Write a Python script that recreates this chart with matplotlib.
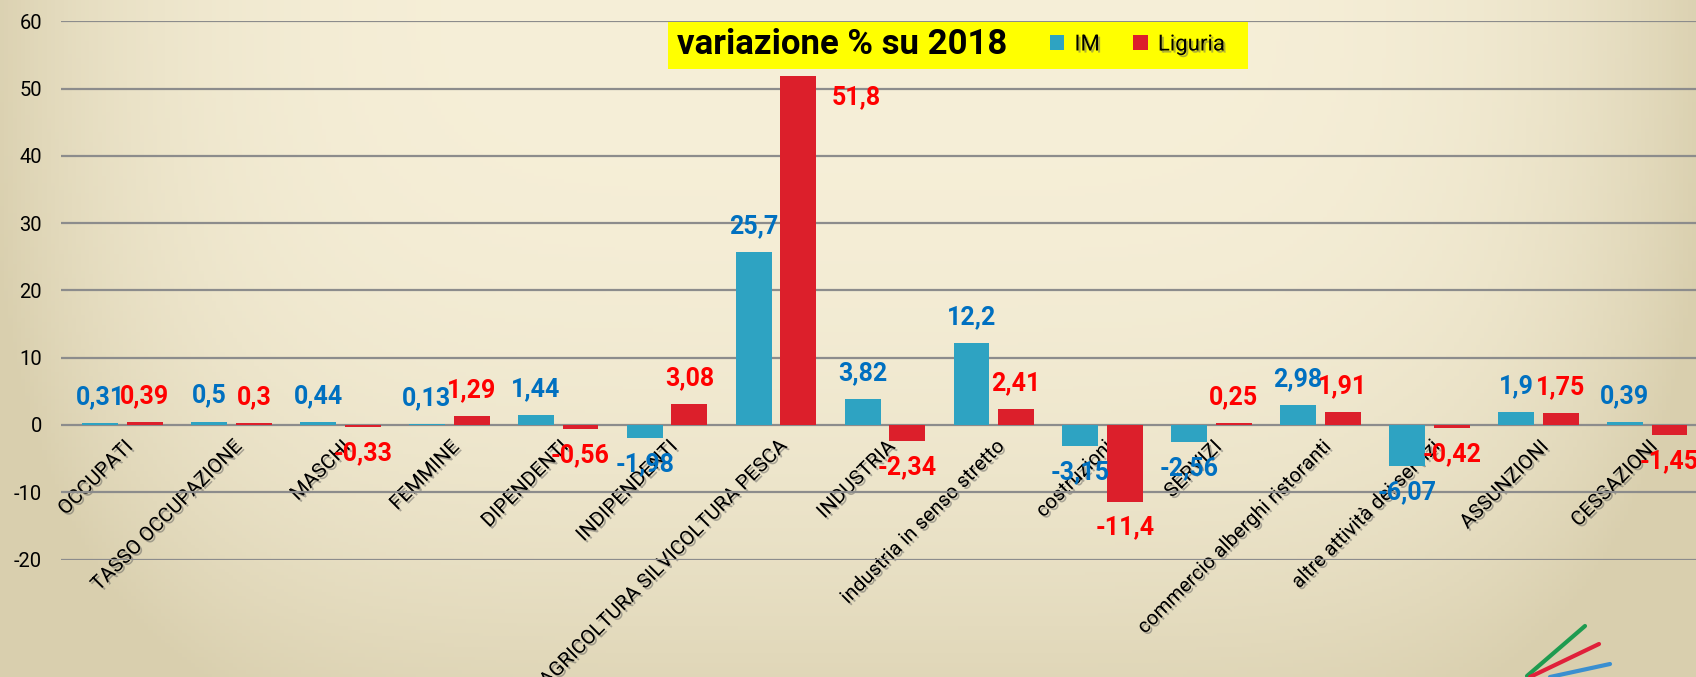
"""Variazione % su 2018: IM vs Liguria, grouped bar chart."""

import numpy as np
import matplotlib.pyplot as plt
import matplotlib.patheffects as pe
from matplotlib.patches import Rectangle
from matplotlib.lines import Line2D

plt.rcParams['font.family'] = ['Roboto', 'DejaVu Sans']
plt.rcParams['axes.unicode_minus'] = False

# ---- data -------------------------------------------------------------
categories = [
    'OCCUPATI', 'TASSO OCCUPAZIONE', 'MASCHI', 'FEMMINE', 'DIPENDENTI',
    'INDIPENDENTI', 'AGRICOLTURA SILVICOLTURA PESCA', 'INDUSTRIA',
    'industria in senso stretto', 'costruzioni', 'SERVIZI',
    'commercio alberghi ristoranti', 'altre attività dei servizi',
    'ASSUNZIONI', 'CESSAZIONI',
]
im_values = [0.31, 0.5, 0.44, 0.13, 1.44, -1.98, 25.7, 3.82, 12.2, -3.15,
             -2.56, 2.98, -6.07, 1.9, 0.39]
liguria_values = [0.39, 0.3, -0.33, 1.29, -0.56, 3.08, 51.8, -2.34, 2.41,
                  -11.4, 0.25, 1.91, -0.42, 1.75, -1.45]
series_names = ['IM', 'Liguria']
y_ticks = [-20, -10, 0, 10, 20, 30, 40, 50, 60]
title = 'variazione % su 2018'

# ---- layout / style ---------------------------------------------------
W, H = 1696, 677
BLUE, RED = '#2ea3c2', '#dc1f2b'
BLUE_TXT, RED_TXT = '#0070c0', '#ff0000'
GRID = '#8c8c8c'
BAR_W, OFFSET = 0.33, 0.205
# labels moved by hand in the original (series index, category index) -> points
label_shift = {(1, 6): (42, -15)}


def px(x, y):
    """Pixel position (from top-left) to figure fraction."""
    return x / W, 1 - y / H


fig = plt.figure(figsize=(W / 100, H / 100), dpi=100)

# background gradient
bg = fig.add_axes([0, 0, 1, 1], zorder=-10)
gx, gy = np.meshgrid(np.linspace(0, 1, 400), np.linspace(0, 1, 200))
t = np.clip(0.9 * np.abs(2 * gx - 1) ** 5 + 0.75 * gy ** 2.5, 0, 1)[..., None]
centre = np.array([246, 239, 216]) / 255
edge = np.array([217, 207, 174]) / 255
bg.imshow(centre * (1 - t) + edge * t, aspect='auto', extent=[0, 1, 0, 1])
bg.set_axis_off()

# main axes
cat_step, cat0 = 108.9, 122.6
left_px, right_px = 61, 1701
top_px, bottom_px = 21.2, 559.6
ax = fig.add_axes([left_px / W, 1 - bottom_px / H,
                   (right_px - left_px) / W, (bottom_px - top_px) / H])
ax.patch.set_alpha(0)

x = np.arange(len(categories))
bars_im = ax.bar(x - OFFSET, im_values, BAR_W, color=BLUE, zorder=2)
bars_lig = ax.bar(x + OFFSET, liguria_values, BAR_W, color=RED, zorder=2)

ax.set_xlim(-(cat0 - left_px) / cat_step, (right_px - cat0) / cat_step)
ax.set_ylim(-20, 60)
ax.set_yticks(y_ticks)
ax.yaxis.grid(True, color=GRID, linewidth=1.6)
ax.set_axisbelow(True)
for s in ax.spines.values():
    s.set_visible(False)
ax.spines['bottom'].set_position(('data', 0))
ax.tick_params(axis='y', length=0, labelsize=14.5, pad=13.5)

ax.set_xticks(x, categories, rotation=45, ha='right', rotation_mode='anchor')
ax.tick_params(axis='x', length=0, labelsize=14.5, pad=9)
shadow = [pe.SimplePatchShadow(offset=(1.5, -1.5), shadow_rgbFace='#555555',
                               alpha=0.45), pe.Normal()]
for lab in ax.get_xticklabels():
    lab.set_path_effects(shadow)

# value labels
for si, (bars, vals, col) in enumerate([(bars_im, im_values, BLUE_TXT),
                                        (bars_lig, liguria_values, RED_TXT)]):
    for ci, (b, v) in enumerate(zip(bars, vals)):
        dx, dy = label_shift.get((si, ci), (0, 18.7 if v >= 0 else -18.7))
        ax.annotate(f'{v:g}'.replace('.', ','),
                    (b.get_x() + b.get_width() / 2, v),
                    xytext=(dx, dy), textcoords='offset points',
                    ha='center', va='center', fontsize=18,
                    fontweight='bold', color=col, zorder=4)

# title box with legend
box = Rectangle(px(668, 69), 580 / W, 47 / H, transform=fig.transFigure,
                facecolor='#ffff00', edgecolor='none', zorder=5)
fig.patches.append(box)
fig.text(*px(677, 45), title, fontsize=25, fontweight='bold',
         ha='left', va='center', zorder=6)
leg = fig.legend([bars_im, bars_lig], series_names, loc='center left',
                 bbox_to_anchor=px(1050, 45), ncol=2, frameon=False,
                 fontsize=16, handlelength=0.65, handleheight=0.65,
                 handletextpad=0.45, columnspacing=1.5, borderpad=0,
                 borderaxespad=0)
leg.set_zorder(7)
for txt in leg.get_texts():
    txt.set_path_effects([pe.SimplePatchShadow(offset=(1.5, -1.5),
                                               shadow_rgbFace='#666666',
                                               alpha=0.5), pe.Normal()])

# small logo strokes, bottom right
for (x0, y0, x1, y1, c) in [(1527, 676, 1585, 626, '#1e9b50'),
                            (1530, 677, 1599, 644, '#e0203a'),
                            (1550, 677, 1610, 664, '#3a8fd0')]:
    fig.add_artist(Line2D([x0 / W, x1 / W], [1 - y0 / H, 1 - y1 / H],
                          transform=fig.transFigure, color=c, linewidth=3,
                          solid_capstyle='round', zorder=1))

fig.savefig('out.png', dpi=100)
